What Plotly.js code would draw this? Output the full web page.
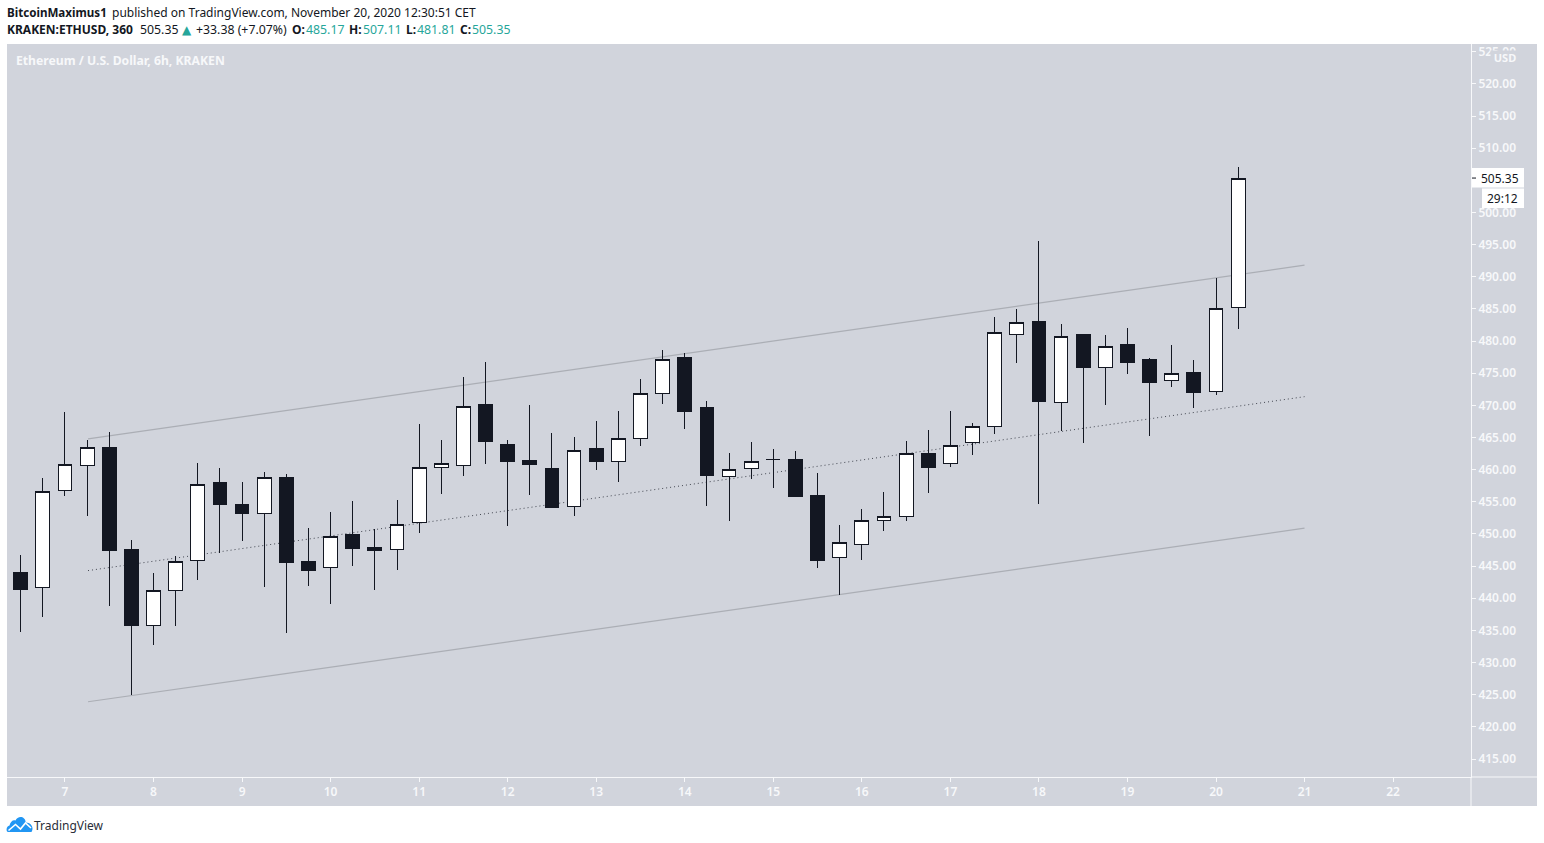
<!DOCTYPE html>
<html>
<head>
<meta charset="utf-8">
<script src="https://cdn.plot.ly/plotly-3.0.1.min.js"></script>
<style>
html,body{margin:0;padding:0;background:#fff;overflow:hidden}
#chart{position:absolute;left:0;top:0;width:1544px;height:843px}
#logo{position:absolute;left:6px;top:816px;width:27px;height:17px}
.boxlayer path.box{shape-rendering:crispEdges}
</style>
</head>
<body>
<div id="chart"></div>
<svg id="logo" viewBox="0 0 27 17"><path d="M1 15.5C-0.3 12.5 1.5 10 3.5 9.5C4.5 5.5 7 3.5 9.5 4.5C11 1 15.5 0 18 2.5C19.5 4 19.8 5.5 19.5 6.5C23 6 26.5 9 26.5 12.5C26.5 14 26 15 25.5 16L2 16Z" fill="#2196f3"/><path d="M2.5 14.5L9.5 8.5L14.5 13L19.5 7L25 12" fill="none" stroke="#fff" stroke-width="1.6"/></svg>
<script>
const xPos = [6.5,6.75,7,7.25,7.5,7.75,8,8.25,8.5,8.75,9,9.25,9.5,9.75,10,10.25,10.5,10.75,11,11.25,11.5,11.75,12,12.25,12.5,12.75,13,13.25,13.5,13.75,14,14.25,14.5,14.75,15,15.25,15.5,15.75,16,16.25,16.5,16.75,17,17.25,17.5,17.75,18,18.25,18.5,18.75,19,19.25,19.5,19.75,20,20.25];
const opens = [443.99,441.61,456.69,460.57,463.42,447.56,435.7,441.14,445.81,457.98,454.56,453.11,458.76,445.7,444.72,449.89,447.87,447.52,451.71,460.26,460.67,470.1,463.89,461.4,460.15,454.2,463.26,461.2,464.77,471.77,477.41,469.64,458.86,460.11,461.51,461.55,455.96,446.27,448.29,452.02,452.65,462.49,460.89,464.15,466.79,481.09,483.01,470.52,480.98,475.96,479.43,477.1,473.79,475.08,472.08,485.17];
const highs = [446.78,458.71,469.02,464.66,465.86,449.12,443.99,446.63,461.09,460.26,458.13,459.69,459.38,450.98,453.47,455.18,450.72,455.34,467.15,464.66,474.46,476.79,464.66,470.1,465.75,465.13,467.62,469.17,474.15,478.65,478.19,470.72,462.64,464.35,463.26,462.95,459.53,451.45,453.94,456.58,464.51,466.22,469.17,467.31,483.78,485.03,495.6,482.69,481.14,480.98,482.07,477.41,479.43,477.1,489.85,507.11];
const lows = [434.71,437.04,455.85,452.74,438.75,424.92,432.69,435.64,442.79,446.99,448.85,441.7,434.55,441.86,439.06,444.97,441.24,444.35,450.1,456.16,458.96,460.82,451.19,456,454.14,452.74,459.89,458.03,463.62,470.15,466.26,454.29,451.96,458.49,457.09,455.85,444.66,440.52,445.9,450.41,451.96,456.31,460.36,462.22,465.49,476.52,454.61,466.02,464.09,469.99,474.81,465.18,472.79,469.53,471.55,481.81];
const closes = [441.39,456.53,460.73,463.37,447.45,435.8,441.14,445.65,457.62,454.61,453.21,458.71,445.59,444.35,449.54,447.77,447.45,451.4,460.26,460.89,469.9,464.4,461.29,460.82,454.14,462.91,461.29,464.77,471.77,477.21,469.06,459.11,459.95,461.2,461.51,455.85,445.9,448.61,452.02,452.65,462.44,460.36,463.68,466.79,481.4,482.96,470.62,480.78,475.9,479.23,476.68,473.57,475.03,472.02,485.14,505.35];

const channelX = [7.26,21];
const upperChannel = [464.8,491.8];
const middleChannel = [444.3,471.35];
const lowerChannel = [423.9,450.9];

const dayTicks = [7,8,9,10,11,12,13,14,15,16,17,18,19,20,21,22];
const priceTicks = [415,420,425,430,435,440,445,450,455,460,465,470,475,480,485,490,495,500,505,510,515,520,525];

const lastPrice = 505.35;
const countdown = "29:12";

const INK = "#131722", PANEL = "#d1d4dc", SOFT = "#f7f8fa", TEAL = "#26a69a";
const FONT = "'Noto Sans', 'Open Sans', sans-serif";
const W = 1544, H = 843, L = 7, R = 1471, T = 44, B = 777;
const px = v => (v - L) / (R - L);
const py = v => (B - v) / (B - T);

function channelLine(ys, style){
  return {type:"line", xref:"x", yref:"y", layer:"below",
    x0:channelX[0], x1:channelX[1], y0:ys[0], y1:ys[1], line:style};
}

function label(text, x, y, size, color, extra){
  return Object.assign({text:text, xref:"paper", yref:"paper", x:px(x), y:py(y),
    xanchor:"left", yanchor:"middle", showarrow:false, align:"left",
    font:{family:FONT, size:size, color:color}}, extra||{});
}

function whiteBox(x0, x1, y0, y1){
  return {type:"rect", xref:"paper", yref:"paper", x0:px(x0), x1:px(x1), y0:py(y1), y1:py(y0), fillcolor:"#ffffff", line:{width:0}};
}

const data = [{
  type:"candlestick", x:xPos, open:opens, high:highs, low:lows, close:closes,
  increasing:{line:{color:INK, width:1}, fillcolor:"#ffffff"},
  decreasing:{line:{color:INK, width:1}, fillcolor:INK},
  whiskerwidth:0, showlegend:false, hoverinfo:"skip"
}];

const layout = {
  width:W, height:H,
  margin:{l:L, r:W-R, t:T, b:H-B, pad:0},
  paper_bgcolor:"#ffffff", plot_bgcolor:PANEL,
  showlegend:false, boxgap:0.11,
  font:{family:FONT},
  xaxis:{type:"linear", range:[6.345,22.88], tickmode:"array", tickvals:dayTicks, ticktext:dayTicks.map(String),
    showgrid:false, zeroline:false, showline:true, linecolor:SOFT, linewidth:1,
    ticks:"outside", ticklen:4, tickcolor:SOFT, tickwidth:1,
    tickfont:{family:FONT, size:12, color:SOFT, weight:600},
    rangeslider:{visible:false}, fixedrange:true},
  yaxis:{side:"right", range:[412.2,526.2], tickmode:"array", tickvals:priceTicks, tickformat:".2f",
    showgrid:false, zeroline:false, showline:true, linecolor:SOFT, linewidth:1,
    ticks:"outside", ticklen:4, tickcolor:SOFT, tickwidth:1,
    tickfont:{family:FONT, size:12, color:SOFT, weight:600}, fixedrange:true},
  shapes:[
    {type:"rect", xref:"paper", yref:"paper", layer:"below", x0:px(7), x1:px(1537), y0:py(806), y1:py(44), fillcolor:PANEL, line:{width:0}},
    channelLine(upperChannel, {color:"#abaeb5", width:1.2}),
    channelLine(middleChannel, {color:"rgba(19,23,34,.75)", width:1, dash:"1px,3px"}),
    channelLine(lowerChannel, {color:"#abaeb5", width:1.2}),
    {type:"line", xref:"paper", yref:"paper", x0:px(1471), x1:px(1537), y0:py(777), y1:py(777), line:{color:SOFT, width:1}},
    {type:"line", xref:"paper", yref:"paper", x0:px(1471), x1:px(1471), y0:py(806), y1:py(777), line:{color:SOFT, width:1}},
    whiteBox(1472, 1524, 168, 187.5),
    whiteBox(1482, 1524, 188.5, 208),
    {type:"line", xref:"paper", yref:"y", x0:px(1472), x1:px(1476), y0:lastPrice, y1:lastPrice, line:{color:INK, width:1}}
  ],
  annotations:[
    label('<b>BitcoinMaximus1</b>', 5, 13, 11.6, INK),
    label('published on TradingView.com, November 20, 2020 12:30:51 CET', 110, 13, 12, INK),
    label('<b>KRAKEN:ETHUSD, 360</b>', 5, 30, 12, INK),
    label('505.35', 138, 30, 12.3, INK),
    {text:'▲', xref:"paper", yref:"paper", x:px(180), y:py(30), xanchor:"left", yanchor:"middle", showarrow:false,
      font:{family:"'DejaVu Sans', sans-serif", size:12, color:TEAL}},
    label('+33.38 (+7.07%)', 194, 30, 12.3, INK),
    label('<b>O:</b>', 290, 30, 12, INK),
    label('485.17', 304, 30, 12.3, TEAL),
    label('<b>H:</b>', 347, 30, 12, INK),
    label('507.11', 361, 30, 12.3, TEAL),
    label('<b>L:</b>', 404, 30, 12, INK),
    label('481.81', 415, 30, 12.3, TEAL),
    label('<b>C:</b>', 458, 30, 12, INK),
    label('505.35', 470, 30, 12.3, TEAL),
    label('<b>Ethereum / U.S. Dollar, 6h, KRAKEN</b>', 13.5, 60, 12.2, SOFT),
    label('TradingView', 32, 825, 12, "#2a2e39"),
    label('<b>USD</b>', 1490, 58, 11, SOFT, {bgcolor:PANEL, borderpad:0, width:28, height:13, align:"center"}),
    {text:lastPrice.toFixed(2), xref:"paper", yref:"y", x:px(1479), y:lastPrice, xanchor:"left", yanchor:"middle",
      showarrow:false, font:{family:FONT, size:12, color:INK}},
    {text:countdown, xref:"paper", yref:"y", x:px(1484.5), y:lastPrice, yshift:-20, xanchor:"left", yanchor:"middle",
      showarrow:false, font:{family:FONT, size:12, color:INK}}
  ]
};

Plotly.newPlot("chart", data, layout, {displayModeBar:false, staticPlot:true});
</script>
</body>
</html>
